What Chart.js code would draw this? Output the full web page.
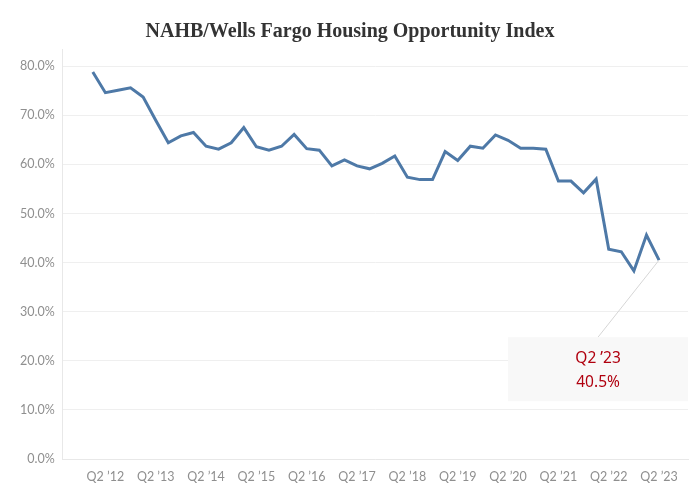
<!DOCTYPE html>
<html>
<head>
<meta charset="utf-8">
<script src="https://cdn.jsdelivr.net/npm/chart.js@4.4.1/dist/chart.umd.min.js"></script>
<style>
  html, body { margin: 0; padding: 0; background: #fff; }
  #wrap { width: 699px; height: 499px; }
</style>
</head>
<body>
<div id="wrap"><canvas id="hoi"></canvas></div>
<script>
// ── Data ──
const quarters = [
  "Q1 ’12", "Q2 ’12", "Q3 ’12", "Q4 ’12",
  "Q1 ’13", "Q2 ’13", "Q3 ’13", "Q4 ’13",
  "Q1 ’14", "Q2 ’14", "Q3 ’14", "Q4 ’14",
  "Q1 ’15", "Q2 ’15", "Q3 ’15", "Q4 ’15",
  "Q1 ’16", "Q2 ’16", "Q3 ’16", "Q4 ’16",
  "Q1 ’17", "Q2 ’17", "Q3 ’17", "Q4 ’17",
  "Q1 ’18", "Q2 ’18", "Q3 ’18", "Q4 ’18",
  "Q1 ’19", "Q2 ’19", "Q3 ’19", "Q4 ’19",
  "Q1 ’20", "Q2 ’20", "Q3 ’20", "Q4 ’20",
  "Q1 ’21", "Q2 ’21", "Q3 ’21", "Q4 ’21",
  "Q1 ’22", "Q2 ’22", "Q3 ’22", "Q4 ’22",
  "Q1 ’23", "Q2 ’23",
];

const hoiValues = [
  78.8, 74.6, 75.1, 75.6,
  73.7, 69.0, 64.4, 65.8,
  66.5, 63.7, 63.1, 64.4,
  67.5, 63.6, 62.9, 63.7,
  66.1, 63.2, 62.9, 59.7,
  60.9, 59.7, 59.1, 60.2,
  61.7, 57.4, 56.9, 56.9,
  62.6, 60.8, 63.7, 63.3,
  66.0, 64.9, 63.3, 63.3,
  63.1, 56.6, 56.6, 54.2,
  57.0, 42.7, 42.2, 38.3,
  45.6, 40.5,
];

const xTickLabels = [
  "Q2 ’12", "Q2 ’13", "Q2 ’14", "Q2 ’15", "Q2 ’16", "Q2 ’17",
  "Q2 ’18", "Q2 ’19", "Q2 ’20", "Q2 ’21", "Q2 ’22", "Q2 ’23",
];

const yTicks = [0, 10, 20, 30, 40, 50, 60, 70, 80];

// ── Callout on the last point ──
const calloutPlugin = {
  id: "callout",
  afterDatasetsDraw(chart) {
    const meta = chart.getDatasetMeta(0);
    const pt = meta.data[meta.data.length - 1];
    const ctx = chart.ctx;
    const boxW = 180, boxH = 64;
    const cx = pt.x - 61;
    const top = pt.y + 77;

    ctx.save();
    ctx.strokeStyle = "#d6d6d6";
    ctx.lineWidth = 1;
    ctx.beginPath();
    ctx.moveTo(pt.x, pt.y);
    ctx.lineTo(cx, top);
    ctx.stroke();

    ctx.fillStyle = "#f8f8f8";
    ctx.fillRect(cx - boxW / 2, top, boxW, boxH);

    ctx.fillStyle = "#b0000f";
    ctx.font = "15.5px 'Noto Sans'";
    ctx.textAlign = "center";
    ctx.textBaseline = "middle";
    const last = hoiValues.length - 1;
    ctx.fillText(quarters[last], cx, top + 21);
    ctx.fillText(hoiValues[last].toFixed(1) + "%", cx, top + 45);
    ctx.restore();
  },
};

// ── Chart ──
function initChart() {
  const ctx = document.getElementById("hoi").getContext("2d");

  new Chart(ctx, {
    type: "line",
    data: {
      datasets: [
        {
          data: hoiValues.map((v, i) => ({ x: i, y: v })),
          borderColor: "#4e79a7",
          borderWidth: 3,
          pointRadius: 0,
          tension: 0,
          fill: false,
        },
      ],
    },
    options: {
      responsive: true,
      maintainAspectRatio: false,
      animation: false,
      layout: { padding: { left: 12, right: 11, top: 4, bottom: 5 } },
      plugins: {
        legend: { display: false },
        tooltip: { enabled: false },
        title: {
          display: true,
          text: "NAHB/Wells Fargo Housing Opportunity Index",
          color: "#333",
          font: { family: "Liberation Serif", size: 20, weight: "bold" },
          padding: { top: 16, bottom: 5 },
        },
      },
      scales: {
        x: {
          type: "linear",
          min: -2.39,
          max: 47.3,
          afterBuildTicks: (scale) => {
            scale.ticks = xTickLabels.map((lbl) => ({ value: quarters.indexOf(lbl) }));
          },
          grid: { display: false, drawTicks: false },
          border: { color: "#e8e8e8" },
          ticks: {
            color: "#8f8f8f",
            font: { family: "Lato", size: 12.5 },
            padding: 10,
            maxRotation: 0,
            autoSkip: false,
            callback: (val) => quarters[val],
          },
        },
        y: {
          min: 0,
          max: 83.5,
          afterBuildTicks: (scale) => {
            scale.ticks = yTicks.map((v) => ({ value: v }));
          },
          grid: { color: "#efefef", drawTicks: false },
          border: { color: "#e8e8e8" },
          ticks: {
            color: "#8f8f8f",
            font: { family: "Lato", size: 12.5 },
            padding: 8,
            callback: (val) => val.toFixed(1) + "%",
          },
        },
      },
    },
    plugins: [calloutPlugin],
  });
}

initChart();
</script>
</body>
</html>
